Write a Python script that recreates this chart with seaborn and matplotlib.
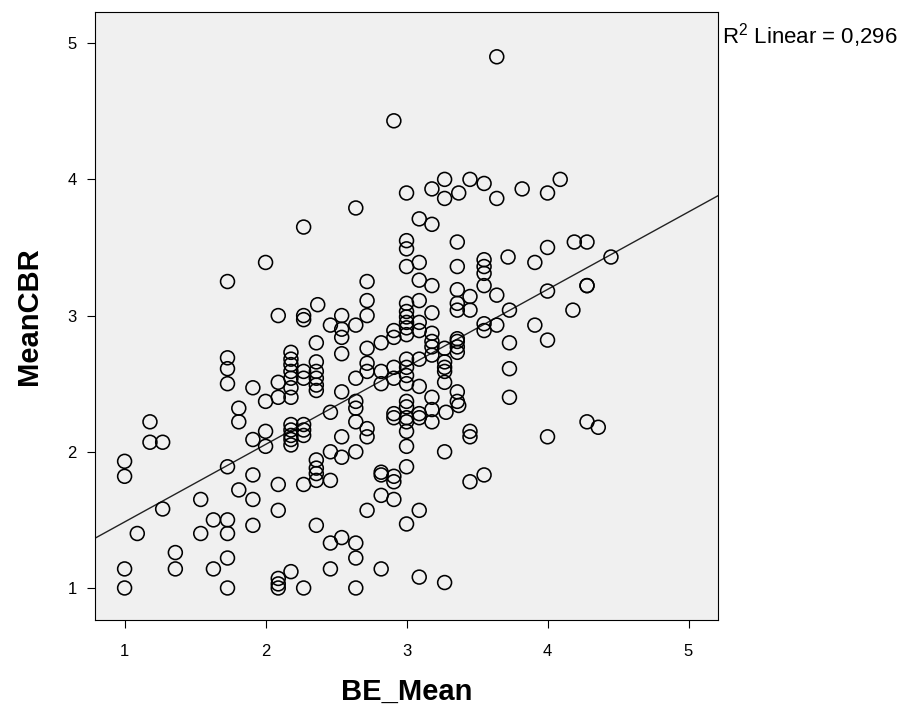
import matplotlib
matplotlib.use("Agg")
import matplotlib.pyplot as plt
import numpy as np
import pandas as pd
import seaborn as sns

# BE_Mean values (x) and the matching MeanCBR values (y), one entry per respondent
be_mean = [
    1.18, 1.18, 1.27, 1.00, 1.00, 1.73, 1.81, 1.54, 1.27, 1.63,
    1.73, 1.73, 1.54, 1.09, 1.36, 1.36, 1.73, 1.63, 1.00, 1.00,
    1.73, 1.81, 1.81,
    1.73, 1.73, 1.73, 1.73,
    2.27, 2.00, 2.72, 2.72, 2.72, 2.37, 2.09, 2.27, 2.27, 2.54,
    2.46, 2.64, 2.54, 2.54, 2.54, 2.36, 2.72, 2.72,
    2.18, 2.18, 2.18, 2.18, 2.18, 2.18, 2.18,
    2.27, 2.27,
    2.36, 2.36, 2.36, 2.36, 2.36,
    2.09, 2.09, 1.91, 2.00, 2.54, 2.64, 2.72, 2.64,
    3.09, 3.18, 3.00, 3.00, 3.00, 3.09, 3.36, 3.36,
    3.55, 3.55, 3.55, 3.55, 3.64, 3.72, 3.73, 3.09, 3.18,
    3.36, 3.36, 3.36, 3.45, 3.45, 3.09,
    3.00, 3.00, 3.00, 3.00, 3.00, 3.00,
    3.18, 3.09, 3.09, 2.91, 2.91, 2.82,
    3.18, 3.18, 3.18, 3.18,
    3.27, 3.27, 3.27, 3.27,
    3.36, 3.36, 3.36, 3.36,
    3.55, 3.55, 3.64, 3.73, 3.73, 3.73,
    3.00, 3.00, 3.00, 3.00,
    3.09, 3.09, 2.91, 2.91, 2.82, 2.82, 3.18, 3.27, 3.36, 3.36, 3.00,
    3.64, 2.91, 3.00, 3.18, 3.27, 3.27, 3.37, 3.45, 3.55, 3.64,
    3.82, 4.00, 4.09, 2.64,
    4.00, 3.91, 4.19, 4.28, 4.45, 4.00, 4.28, 4.28, 4.18, 3.91, 4.00,
    2.18, 2.18, 2.18, 2.18, 2.18,
    2.27, 2.27, 2.27,
    2.00, 2.00, 1.91, 2.46, 2.64, 2.64, 2.72, 2.72, 2.54, 2.46,
    2.54, 2.64, 2.36, 2.36, 2.36, 2.36, 2.46, 2.27, 2.09, 1.91,
    1.91, 2.09, 1.91, 2.36, 2.72, 2.46, 2.54, 2.64, 2.64, 2.46,
    2.18, 2.09, 2.09, 2.09, 2.27, 2.64,
    2.91, 2.91, 3.00, 3.00, 3.00, 3.09, 3.09, 3.18, 3.18, 3.28,
    3.37, 3.00, 3.00, 3.27, 3.45, 3.45, 3.00, 2.82, 2.82, 2.91,
    2.91, 2.82, 2.91, 3.45, 3.55, 3.09, 3.00, 2.82, 3.09, 3.27,
    4.00, 4.28, 4.36,
]
mean_cbr = [
    2.22, 2.07, 2.07, 1.93, 1.82, 1.89, 1.72, 1.65, 1.58, 1.50,
    1.50, 1.40, 1.40, 1.40, 1.26, 1.14, 1.22, 1.14, 1.14, 1.00,
    1.00, 2.32, 2.22,
    3.25, 2.69, 2.61, 2.50,
    3.65, 3.39, 3.25, 3.11, 3.00, 3.08, 3.00, 3.00, 2.97, 3.00,
    2.93, 2.93, 2.90, 2.84, 2.72, 2.80, 2.76, 2.65,
    2.73, 2.68, 2.64, 2.59, 2.54, 2.47, 2.40,
    2.59, 2.54,
    2.66, 2.59, 2.54, 2.49, 2.45,
    2.51, 2.40, 2.47, 2.37, 2.44, 2.54, 2.59, 2.37,
    3.71, 3.67, 3.55, 3.49, 3.36, 3.39, 3.54, 3.36,
    3.41, 3.36, 3.31, 3.22, 3.15, 3.43, 3.04, 3.26, 3.22,
    3.19, 3.09, 3.04, 3.14, 3.04, 3.11,
    3.09, 3.03, 2.99, 2.95, 2.91, 2.86,
    3.02, 2.95, 2.89, 2.89, 2.84, 2.80,
    2.87, 2.81, 2.77, 2.71,
    2.76, 2.66, 2.62, 2.59,
    2.83, 2.81, 2.77, 2.73,
    2.94, 2.89, 2.93, 2.80, 2.61, 2.40,
    2.68, 2.62, 2.56, 2.50,
    2.68, 2.48, 2.62, 2.54, 2.59, 2.50, 2.40, 2.51, 2.44, 2.37, 2.37,
    4.90, 4.43, 3.90, 3.93, 4.00, 3.86, 3.90, 4.00, 3.97, 3.86,
    3.93, 3.90, 4.00, 3.79,
    3.50, 3.39, 3.54, 3.54, 3.43, 3.18, 3.22, 3.22, 3.04, 2.93, 2.82,
    2.20, 2.16, 2.12, 2.09, 2.05,
    2.20, 2.16, 2.12,
    2.15, 2.04, 2.09, 2.29, 2.32, 2.22, 2.17, 2.11, 2.11, 2.00,
    1.96, 2.00, 1.94, 1.88, 1.84, 1.79, 1.79, 1.76, 1.76, 1.83,
    1.65, 1.57, 1.46, 1.46, 1.57, 1.33, 1.37, 1.33, 1.22, 1.14,
    1.12, 1.07, 1.03, 1.00, 1.00, 1.00,
    2.28, 2.25, 2.33, 2.25, 2.22, 2.28, 2.25, 2.31, 2.22, 2.29,
    2.34, 2.15, 2.04, 2.00, 2.15, 2.11, 1.89, 1.85, 1.83, 1.82,
    1.78, 1.68, 1.65, 1.78, 1.83, 1.57, 1.47, 1.14, 1.08, 1.04,
    2.11, 2.22, 2.18,
]

x_ticks = [1, 2, 3, 4, 5]
y_ticks = [1, 2, 3, 4, 5]
fit_label = r"R$^{2}$ Linear = 0,296"

df = pd.DataFrame({"BE_Mean": be_mean, "MeanCBR": mean_cbr})

sns.set_theme(style="ticks")
plt.rcParams["font.family"] = ["Liberation Sans", "DejaVu Sans"]
plt.rcParams["mathtext.fontset"] = "custom"
plt.rcParams["mathtext.rm"] = "Liberation Sans"
plt.rcParams["mathtext.default"] = "regular"
plt.rcParams["text.color"] = "black"
plt.rcParams["axes.labelcolor"] = "black"

fig = plt.figure(figsize=(9.09, 7.18), dpi=100, facecolor="white")
ax = fig.add_axes([0.1045, 0.1365, 0.6855, 0.847])
ax.set_facecolor("#f0f0f0")
ax.set_xlim(0.79, 5.21)
ax.set_ylim(0.765, 5.23)

sns.scatterplot(data=df, x="BE_Mean", y="MeanCBR", ax=ax, marker="o",
                s=100, facecolors="none", edgecolor="black", linewidth=1.15,
                zorder=3)
sns.regplot(data=df, x="BE_Mean", y="MeanCBR", ax=ax, scatter=False,
            ci=None, truncate=False,
            line_kws=dict(color="#222222", linewidth=1.0, zorder=2))
ax.set_xlim(0.79, 5.21)
ax.set_ylim(0.765, 5.23)

ax.set_xticks(x_ticks)
ax.set_yticks(y_ticks)
ax.tick_params(axis="both", direction="out", length=6, width=0.8,
               color="black", labelsize=12, labelcolor="black")
ax.tick_params(axis="x", pad=11)
ax.tick_params(axis="y", pad=7)
for side in ["left", "right", "top", "bottom"]:
    ax.spines[side].set_visible(True)
    ax.spines[side].set_color("black")
    ax.spines[side].set_linewidth(0.8)

ax.set_xlabel("BE_Mean", fontsize=21, fontweight="bold", labelpad=14,
              color="black")
ax.set_ylabel("MeanCBR", fontsize=21, fontweight="bold", labelpad=18,
              color="black")

fig.text(0.794, 0.951, fit_label, fontsize=16, ha="left", va="center",
         color="black")

fig.savefig("out.png", dpi=100, facecolor="white")
